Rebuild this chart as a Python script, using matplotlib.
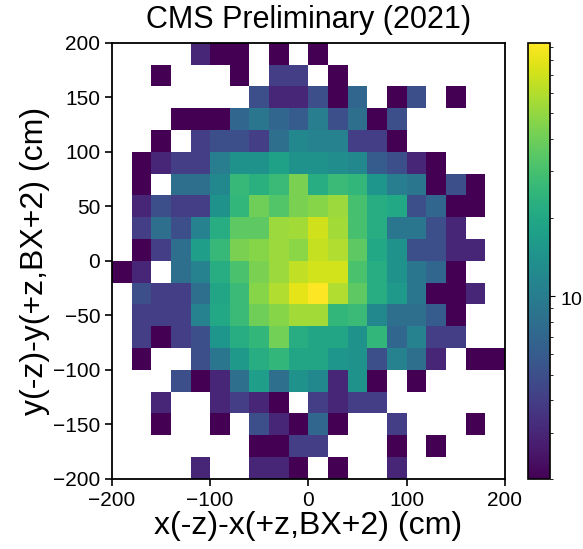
import numpy as np
import matplotlib
matplotlib.use("Agg")
import matplotlib.pyplot as plt
from matplotlib.colors import LogNorm

plt.rcParams['font.family'] = ['Liberation Sans', 'DejaVu Sans']

# bin edges (cm)
x_edges = np.linspace(-200, 200, 21)
y_edges = np.linspace(-200, 200, 21)

# counts per bin, one list per y-bin, from top (y=180..200) to bottom, x from -200 to 200
# 0 = empty bin (drawn white)
row_190 = [0, 0, 0, 0, 3, 2, 2, 0, 2, 0, 2, 0, 0, 0, 0, 0, 0, 0, 0, 0]
row_170 = [0, 0, 2, 0, 0, 0, 2, 0, 4, 4, 0, 2, 0, 0, 0, 0, 0, 0, 0, 0]
row_150 = [0, 0, 0, 0, 0, 0, 0, 5, 3, 3, 5, 2, 7, 0, 2, 5, 0, 2, 0, 0]
row_130 = [0, 0, 0, 2, 2, 2, 7, 9, 7, 6, 10, 5, 8, 2, 5, 0, 0, 0, 0, 0]
row_110 = [0, 0, 2, 0, 4, 5, 5, 4, 8, 12, 11, 11, 4, 4, 2, 0, 0, 0, 0, 0]
row_90 = [0, 2, 3, 4, 4, 10, 14, 14, 18, 14, 14, 13, 12, 6, 5, 3, 2, 0, 0, 0]
row_70 = [0, 2, 0, 8, 8, 12, 26, 23, 27, 43, 22, 27, 25, 15, 10, 9, 2, 5, 2, 0]
row_50 = [0, 3, 5, 4, 4, 14, 25, 40, 33, 43, 46, 52, 30, 22, 20, 5, 7, 2, 2, 0]
row_30 = [0, 4, 8, 5, 11, 22, 36, 36, 52, 55, 70, 55, 30, 22, 9, 9, 5, 3, 0, 0]
row_10 = [0, 2, 4, 8, 17, 26, 43, 46, 52, 48, 66, 59, 36, 20, 14, 5, 5, 3, 3, 0]
row_m10 = [2, 3, 0, 8, 11, 22, 31, 43, 52, 64, 72, 72, 31, 22, 14, 9, 7, 2, 0, 0]
row_m30 = [0, 5, 4, 4, 8, 19, 27, 46, 59, 80, 93, 59, 36, 22, 16, 9, 2, 2, 3, 0]
row_m50 = [0, 4, 4, 4, 11, 20, 27, 40, 46, 55, 55, 25, 27, 12, 8, 8, 6, 2, 0, 0]
row_m70 = [0, 4, 2, 4, 5, 15, 22, 25, 41, 22, 19, 19, 14, 25, 7, 11, 4, 4, 0, 0]
row_m90 = [0, 2, 0, 0, 5, 9, 16, 22, 25, 19, 19, 15, 14, 5, 11, 8, 3, 0, 2, 2]
row_m110 = [0, 0, 0, 5, 2, 3, 8, 17, 8, 14, 12, 3, 14, 2, 0, 2, 0, 0, 0, 0]
row_m130 = [0, 0, 3, 0, 0, 3, 4, 3, 2, 0, 4, 3, 4, 4, 0, 0, 0, 0, 0, 0]
row_m150 = [0, 0, 2, 0, 0, 2, 0, 5, 3, 2, 7, 2, 0, 0, 4, 0, 0, 0, 2, 0]
row_m170 = [0, 0, 0, 0, 0, 0, 0, 2, 2, 4, 4, 0, 0, 0, 2, 0, 2, 0, 0, 0]
row_m190 = [0, 0, 0, 0, 3, 0, 0, 3, 3, 2, 0, 2, 0, 0, 3, 0, 0, 0, 0, 0]

rows_top_down = [row_190, row_170, row_150, row_130, row_110, row_90, row_70,
                 row_50, row_30, row_10, row_m10, row_m30, row_m50, row_m70,
                 row_m90, row_m110, row_m130, row_m150, row_m170, row_m190]

counts = np.array(rows_top_down[::-1], dtype=float)
counts = np.ma.masked_equal(counts, 0)

fig = plt.figure(figsize=(5.83, 5.49), dpi=100)
ax = fig.add_axes([0.192, 0.128, 0.674, 0.794])
cax = fig.add_axes([0.906, 0.127, 0.038, 0.795])

mesh = ax.pcolormesh(x_edges, y_edges, counts, cmap='viridis',
                     norm=LogNorm(vmin=2, vmax=93))
ax.set_xlim(-200, 200)
ax.set_ylim(-200, 200)
ax.set_xticks([-200, -100, 0, 100, 200])
ax.set_yticks([-200, -150, -100, -50, 0, 50, 100, 150, 200])
ax.tick_params(labelsize=15, width=1.2, length=5)
for s in ax.spines.values():
    s.set_linewidth(1.3)

ax.set_title("CMS Preliminary (2021)", fontsize=22, pad=11)
ax.set_xlabel("x(-z)-x(+z,BX+2) (cm)", fontsize=23, labelpad=1)
ax.set_ylabel("y(-z)-y(+z,BX+2) (cm)", fontsize=23, labelpad=2)

cb = fig.colorbar(mesh, cax=cax)
cb.ax.tick_params(labelsize=14)
cb.outline.set_linewidth(1.2)

fig.savefig("out.png", dpi=100)
